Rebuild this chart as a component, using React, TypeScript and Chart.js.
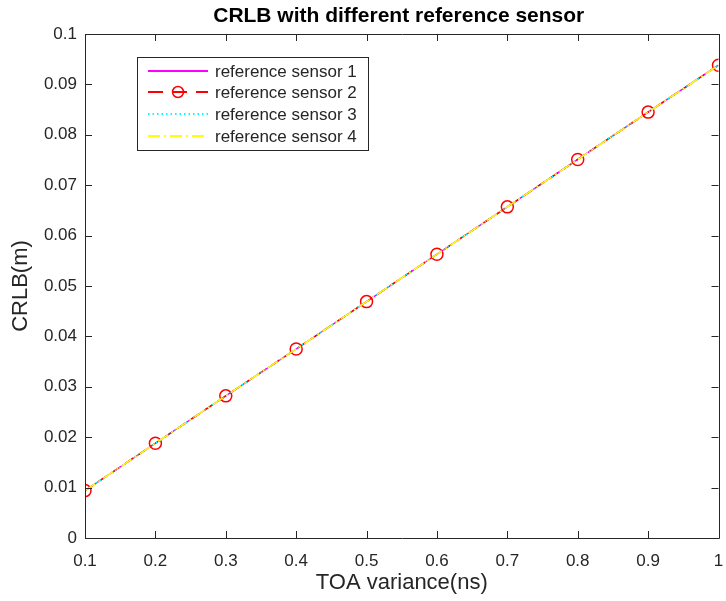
import React, { useEffect, useRef } from "react";
import { Chart, registerables } from "chart.js";

Chart.register(...registerables);

// TOA variance (ns) on the x axis
const toaVariance = [0.1, 0.2, 0.3, 0.4, 0.5, 0.6, 0.7, 0.8, 0.9, 1.0];

// CRLB (m) for each choice of reference sensor
const crlbSensor1 = [0.0094, 0.0188, 0.0282, 0.0375, 0.0469, 0.0563, 0.0657, 0.0751, 0.0845, 0.0938];
const crlbSensor2 = [0.0094, 0.0188, 0.0282, 0.0375, 0.0469, 0.0563, 0.0657, 0.0751, 0.0845, 0.0938];
const crlbSensor3 = [0.0094, 0.0188, 0.0282, 0.0375, 0.0469, 0.0563, 0.0657, 0.0751, 0.0845, 0.0938];
const crlbSensor4 = [0.0094, 0.0188, 0.0282, 0.0375, 0.0469, 0.0563, 0.0657, 0.0751, 0.0845, 0.0938];

const seriesLabels = ["reference sensor 1", "reference sensor 2", "reference sensor 3", "reference sensor 4"];
const chartTitle = "CRLB with different reference sensor";
const xAxisTitle = "TOA variance(ns)";
const yAxisTitle = "CRLB(m)";

const FONT = "'Liberation Sans', Arial, Helvetica, sans-serif";
const AXIS_COLOR = "#262626";

const seriesStyles = [
  { color: "#ff00ff", dash: [] as number[], legendDash: [] as number[], marker: false },
  { color: "#ff0000", dash: [10, 6], legendDash: [15, 9], marker: true },
  { color: "#00ffff", dash: [1.5, 3], legendDash: [1.5, 3], marker: false },
  { color: "#ffff00", dash: [12, 4, 2, 4], legendDash: [12, 4, 2, 4], marker: false },
];

const fmt = (v: number) => String(Number(Number(v).toFixed(3)));

// Draws the box frame, inward ticks on all four sides, the title and the legend
const matlabFrame = {
  id: "matlabFrame",
  afterDraw(chart: any) {
    const { ctx, chartArea } = chart;
    const { left, right, top, bottom } = chartArea;
    const xs = chart.scales.x;
    const ys = chart.scales.y;
    const tick = 7;
    ctx.save();
    ctx.strokeStyle = AXIS_COLOR;
    ctx.lineWidth = 1;
    ctx.beginPath();
    ctx.rect(Math.round(left) + 0.5, Math.round(top) + 0.5, Math.round(right - left), Math.round(bottom - top));
    ctx.stroke();
    ctx.beginPath();
    xs.ticks.forEach((t: any) => {
      const px = Math.round(xs.getPixelForValue(t.value)) + 0.5;
      ctx.moveTo(px, bottom);
      ctx.lineTo(px, bottom - tick);
      ctx.moveTo(px, top);
      ctx.lineTo(px, top + tick);
    });
    ys.ticks.forEach((t: any) => {
      const py = Math.round(ys.getPixelForValue(t.value)) + 0.5;
      ctx.moveTo(left, py);
      ctx.lineTo(left + tick, py);
      ctx.moveTo(right, py);
      ctx.lineTo(right - tick, py);
    });
    ctx.stroke();

    // title
    ctx.fillStyle = "#000000";
    ctx.font = `bold 21px ${FONT}`;
    ctx.textAlign = "center";
    ctx.textBaseline = "middle";
    ctx.fillText(chartTitle, (left + right) / 2 - 3, 16);

    // legend
    const bx = 137, by = 57, bw = 231, bh = 93;
    ctx.fillStyle = "#ffffff";
    ctx.fillRect(bx, by, bw, bh);
    ctx.strokeStyle = AXIS_COLOR;
    ctx.lineWidth = 1;
    ctx.strokeRect(bx + 0.5, by + 0.5, bw, bh);
    const rowY = [71, 92, 114, 136];
    ctx.font = `17px ${FONT}`;
    ctx.textAlign = "left";
    seriesStyles.forEach((s, i) => {
      const y = rowY[i];
      ctx.strokeStyle = s.color;
      ctx.lineWidth = 2;
      ctx.setLineDash(s.legendDash);
      ctx.beginPath();
      ctx.moveTo(148, y);
      ctx.lineTo(208, y);
      ctx.stroke();
      ctx.setLineDash([]);
      if (s.marker) {
        ctx.lineWidth = 1.5;
        ctx.beginPath();
        ctx.arc(178, y, 5.5, 0, Math.PI * 2);
        ctx.stroke();
      }
      ctx.fillStyle = AXIS_COLOR;
      ctx.fillText(seriesLabels[i], 215, y + 1);
    });
    ctx.restore();
  },
};

export default function App() {
  const canvasRef = useRef<HTMLCanvasElement | null>(null);

  useEffect(() => {
    document.body.style.margin = "0";
    const canvas = canvasRef.current;
    if (!canvas) return;
    const seriesData = [crlbSensor1, crlbSensor2, crlbSensor3, crlbSensor4];
    const chart = new Chart(canvas, {
      type: "line",
      data: {
        datasets: seriesData.map((vals, i) => ({
          label: seriesLabels[i],
          data: toaVariance.map((x, j) => ({ x, y: vals[j] })),
          borderColor: seriesStyles[i].color,
          borderDash: seriesStyles[i].dash,
          borderWidth: 1.5,
          backgroundColor: "transparent",
          fill: false,
          tension: 0,
          pointRadius: seriesStyles[i].marker ? 6 : 0,
          pointBorderWidth: 1.5,
          pointBorderColor: seriesStyles[i].color,
          pointBackgroundColor: "transparent",
          order: 4 - i,
        })),
      },
      options: {
        animation: false,
        responsive: false,
        layout: { padding: { top: 34, right: 5, left: 0, bottom: 0 } },
        plugins: {
          legend: { display: false },
          title: { display: false },
          tooltip: { enabled: false },
        },
        scales: {
          x: {
            type: "linear",
            min: 0.1,
            max: 1,
            grid: { display: false, drawTicks: false },
            border: { display: false },
            ticks: {
              stepSize: 0.1,
              padding: 13,
              color: AXIS_COLOR,
              font: { family: FONT, size: 17 },
              maxRotation: 0,
              callback: (v: any) => fmt(v),
            },
            title: {
              display: true,
              text: xAxisTitle,
              color: AXIS_COLOR,
              font: { family: FONT, size: 22 },
              padding: { top: 0, bottom: 5 },
            },
            afterFit: (scale: any) => {
              scale.height = 63;
              scale.paddingLeft = 0;
              scale.paddingRight = 0;
            },
          },
          y: {
            type: "linear",
            min: 0,
            max: 0.1,
            grid: { display: false, drawTicks: false },
            border: { display: false },
            ticks: {
              stepSize: 0.01,
              padding: 8,
              color: AXIS_COLOR,
              font: { family: FONT, size: 17 },
              callback: (v: any) => fmt(v),
            },
            title: {
              display: true,
              text: yAxisTitle,
              color: AXIS_COLOR,
              font: { family: FONT, size: 22 },
              padding: { top: 8, bottom: 0 },
            },
            afterFit: (scale: any) => {
              scale.width = 85;
              scale.paddingTop = 0;
              scale.paddingBottom = 0;
            },
          },
        },
      },
      plugins: [matlabFrame],
    });
    return () => chart.destroy();
  }, []);

  return (
    <div style={{ position: "absolute", left: 0, top: 0, width: 726, height: 601, background: "#ffffff" }}>
      <canvas ref={canvasRef} width={726} height={601} style={{ width: 726, height: 601 }} />
    </div>
  );
}
